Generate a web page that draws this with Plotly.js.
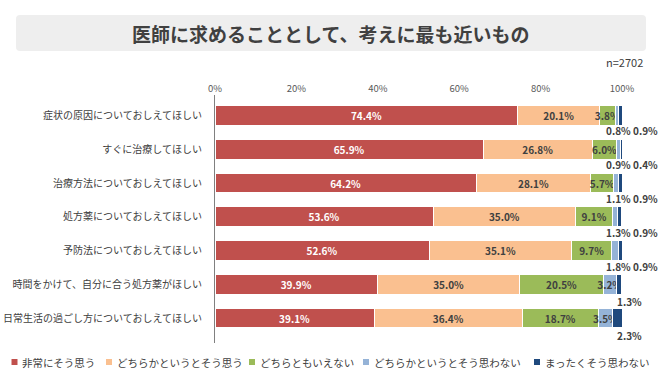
<!DOCTYPE html>
<html>
<head>
<meta charset="utf-8">
<script src="https://cdn.plot.ly/plotly-3.0.1.min.js"></script>
<style>
html,body{margin:0;padding:0;background:#fff;}
#chart{width:660px;height:380px;}
</style>
</head>
<body>
<div id="chart"></div>
<script>
// ---- Data ----
const categories = [
  '症状の原因についておしえてほしい',
  'すぐに治療してほしい',
  '治療方法についておしえてほしい',
  '処方薬についておしえてほしい',
  '予防法についておしえてほしい',
  '時間をかけて、自分に合う処方薬がほしい',
  '日常生活の過ごし方についておしえてほしい'
];
const seriesNames = ['非常にそう思う','どちらかというとそう思う','どちらともいえない','どちらかというとそう思わない','まったくそう思わない'];
const strongAgree   = [74.4, 65.9, 64.2, 53.6, 52.6, 39.9, 39.1];
const agree         = [20.1, 26.8, 28.1, 35.0, 35.1, 35.0, 36.4];
const neutral       = [3.8, 6.0, 5.7, 9.1, 9.7, 20.5, 18.7];
const disagree      = [0.8, 0.9, 1.1, 1.3, 1.8, 3.2, 3.5];
const strongDisagree= [0.9, 0.4, 0.9, 0.9, 0.9, 1.3, 2.3];
const xTicks = [0, 20, 40, 60, 80, 100];
const titleText = '医師に求めることとして、考えに最も近いもの';
const sampleText = 'n=2702';

// ---- Styles ----
const colors = ['#C0504D','#FAC090','#9BBB59','#95B3D7','#1F497D'];
const FONT = '"Noto Sans CJK JP", "Noto Sans", sans-serif';
const TXT = '#404040';
const W = 660, H = 380, L = 215, R = 38, T = 95, B = 37;
const PW = W - L - R, PH = H - T - B;
const OUT_LIMIT = 2.5;

const allSeries = [strongAgree, agree, neutral, disagree, strongDisagree];
const fmt = v => v.toFixed(1) + '%';

const traces = allSeries.map((vals, k) => ({
  type: 'bar',
  orientation: 'h',
  name: seriesNames[k],
  y: categories,
  x: vals,
  marker: {color: colors[k], line: {color: '#ffffff', width: 1}},
  text: vals.map(v => (k >= 3 && v < OUT_LIMIT) ? '' : fmt(v)),
  textposition: 'inside',
  insidetextanchor: 'middle',
  constraintext: 'none',
  textangle: 0,
  cliponaxis: false,
  insidetextfont: {family: FONT, size: 10, color: k === 0 ? '#ffffff' : TXT, weight: 'bold'},
  hoverinfo: 'skip',
  showlegend: false
}));

const px2x = px => (px - L) / PW;
const px2y = py => (H - B - py) / PH;

const annotations = [];
const shapes = [];

// outside labels for small segments (placed below the bar end)
categories.forEach((c, i) => {
  const lightOut = disagree[i] < OUT_LIMIT;
  if (lightOut) {
    annotations.push({x: px2x(618), y: c, xref: 'paper', yref: 'y', yshift: -15.5, text: fmt(disagree[i]),
      showarrow: false, xanchor: 'center', yanchor: 'middle', font: {family: FONT, size: 10, color: TXT, weight: 'bold'}});
  }
  if (strongDisagree[i] < OUT_LIMIT) {
    annotations.push({x: px2x(lightOut ? 645 : 629), y: c, xref: 'paper', yref: 'y', yshift: lightOut ? -15.5 : -17, text: fmt(strongDisagree[i]),
      showarrow: false, xanchor: 'center', yanchor: 'middle', font: {family: FONT, size: 10, color: TXT, weight: 'bold'}});
  }
});

// title box (rounded)
(function(){
  const x0 = px2x(16), x1 = px2x(646), y0 = px2y(51), y1 = px2y(15);
  const rx = 4 / PW, ry = 4 / PH;
  const path = `M ${x0+rx},${y0} L ${x1-rx},${y0} Q ${x1},${y0} ${x1},${y0+ry} L ${x1},${y1-ry} Q ${x1},${y1} ${x1-rx},${y1} L ${x0+rx},${y1} Q ${x0},${y1} ${x0},${y1-ry} L ${x0},${y0+ry} Q ${x0},${y0} ${x0+rx},${y0} Z`;
  shapes.push({type: 'path', xref: 'paper', yref: 'paper', path: path, fillcolor: '#EEEEEE', line: {width: 0}, layer: 'below'});
})();

annotations.push({x: px2x(330.5), y: px2y(33.5), xref: 'paper', yref: 'paper', text: titleText, showarrow: false,
  xanchor: 'center', yanchor: 'middle', font: {family: FONT, size: 19, color: TXT, weight: 'bold'}});
annotations.push({x: px2x(645), y: px2y(62), xref: 'paper', yref: 'paper', text: sampleText, showarrow: false,
  xanchor: 'right', yanchor: 'middle', font: {family: FONT, size: 11, color: TXT}});

// custom legend
const legendX = [11.5, 106, 249, 363, 534];
seriesNames.forEach((nm, k) => {
  shapes.push({type: 'rect', xref: 'paper', yref: 'paper', x0: px2x(legendX[k]), x1: px2x(legendX[k] + 6),
    y0: px2y(365), y1: px2y(359), fillcolor: colors[k], line: {width: 0}});
  annotations.push({x: px2x(legendX[k] + 8.5), y: px2y(362), xref: 'paper', yref: 'paper', text: nm, showarrow: false,
    xanchor: 'left', yanchor: 'middle', font: {family: FONT, size: 10.5, color: TXT}});
});

const layout = {
  width: W, height: H,
  margin: {l: L, r: R, t: T, b: B, pad: 0},
  paper_bgcolor: '#ffffff', plot_bgcolor: '#ffffff',
  barmode: 'stack', bargap: 0.42,
  font: {family: FONT, color: TXT},
  showlegend: false,
  xaxis: {range: [0, 100], side: 'top', tickvals: xTicks, ticktext: xTicks.map(v => v + '%'),
    showgrid: false, zeroline: false, showline: false, ticks: '',
    tickfont: {family: FONT, size: 9.5, color: '#595959'}, fixedrange: true},
  yaxis: {type: 'category', categoryorder: 'array', categoryarray: categories, range: [6.74, -0.607],
    showline: true, linecolor: '#808080', linewidth: 1, ticks: '', ticklabelstandoff: 10,
    showgrid: false, zeroline: false, tickfont: {family: FONT, size: 10, color: TXT}, fixedrange: true},
  annotations: annotations,
  shapes: shapes
};

Plotly.newPlot('chart', traces, layout, {displayModeBar: false, staticPlot: true});
</script>
</body>
</html>
